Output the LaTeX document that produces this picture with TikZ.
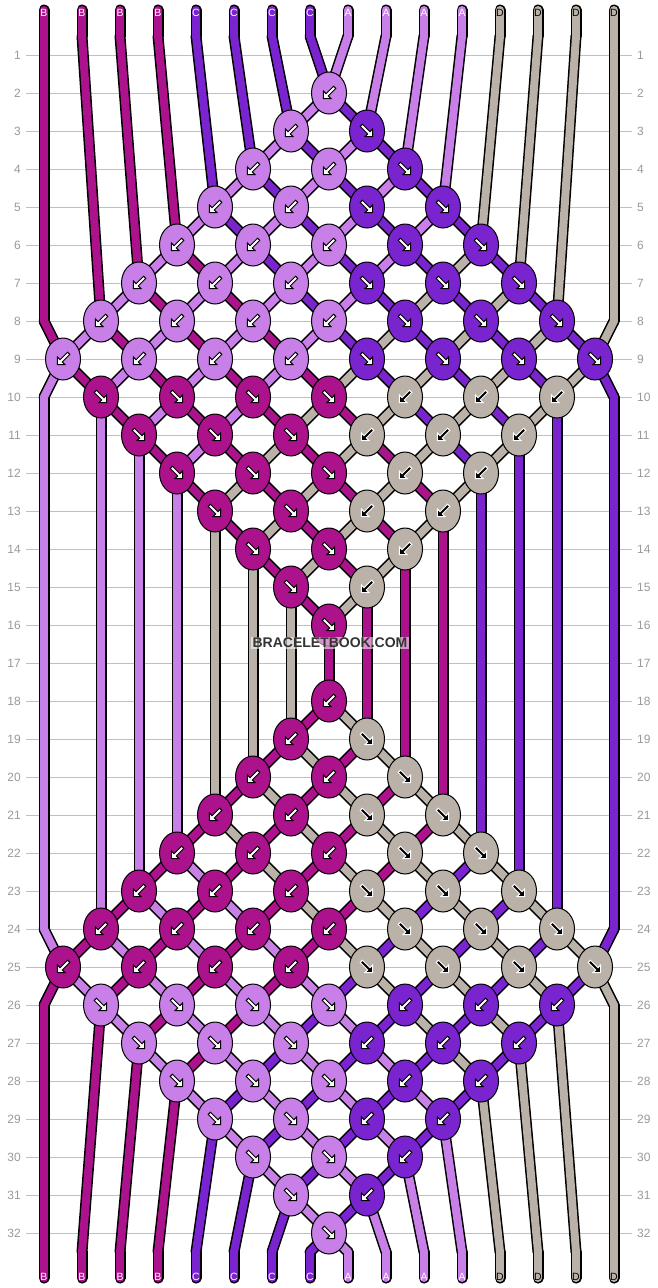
\documentclass[tikz,border=0pt]{standalone}
\usepackage{fontspec}
\setmainfont{Liberation Sans}
\usetikzlibrary{shapes.geometric}
\definecolor{colB}{HTML}{AC128C}
\definecolor{colC}{HTML}{7A24D0}
\definecolor{colA}{HTML}{C880E8}
\definecolor{colD}{HTML}{BAB2A8}
\definecolor{gridgray}{HTML}{C0C0C0}
\definecolor{labgray}{HTML}{9A9A9A}
\definecolor{wmtext}{HTML}{333333}

\gdef\seglist{}
\gdef\knotlist{}
\newcommand\addseg[5]{\xdef\seglist{\unexpanded\expandafter{\seglist}\noexpand\strandseg{#1}{#2}{#3}{#4}{#5}}}
\newcommand\addknot[5]{\xdef\knotlist{\unexpanded\expandafter{\knotlist}\noexpand\knotdraw{#1}{#2}{#3}{#4}{#5}}}
\newcommand\movestrand[3]{%
  \addseg{\csname sc#1\endcsname}{\csname sx#1\endcsname}{\csname sy#1\endcsname}{#2}{#3}%
  \expandafter\xdef\csname sx#1\endcsname{#2}%
  \expandafter\xdef\csname sy#1\endcsname{#3}}
\newcommand\doknot{%
  \pgfmathtruncatemacro\myjj{\myii+1}%
  \pgfmathtruncatemacro\mykx{25+38*\myii}%
  \ifnum\myii<9\relax \let\mykdir\myleftdir \else \if B\myleftdir \def\mykdir{F}\else \def\mykdir{B}\fi\fi
  \if F\mykdir \edef\mykc{\csname sc\myii\endcsname}\else \edef\mykc{\csname sc\myjj\endcsname}\fi
  \movestrand{\myii}{\mykx}{\myky}%
  \movestrand{\myjj}{\mykx}{\myky}%
  \edef\mytmp{\csname sc\myii\endcsname}%
  \expandafter\xdef\csname sc\myii\endcsname{\csname sc\myjj\endcsname}%
  \expandafter\xdef\csname sc\myjj\endcsname{\mytmp}%
  \addknot{\mykc}{\mykdir}{\mykx}{\myky}{\myrw-\myii}%
}

% initial strands
\foreach \mycc [count=\myp] in {B,B,B,B,C,C,C,C,A,A,A,A,D,D,D,D}{%
  \pgfmathtruncatemacro\myxx{6+38*\myp}%
  \expandafter\xdef\csname sc\myp\endcsname{\mycc}%
  \expandafter\xdef\csname top\myp\endcsname{\mycc}%
  \expandafter\xdef\csname sx\myp\endcsname{\myxx}%
  \expandafter\xdef\csname sy\myp\endcsname{36}%
  \addseg{\mycc}{\myxx}{10}{\myxx}{36}%
}

% rows of knots
\foreach \myrw in {1,...,32}{%
  \pgfmathtruncatemacro\myky{17+38*\myrw}%
  \ifnum\myrw<10\relax
    \pgfmathtruncatemacro\mylo{10-\myrw}\pgfmathtruncatemacro\myhi{6+\myrw}\def\myleftdir{B}%
  \else\ifnum\myrw<17\relax
    \pgfmathtruncatemacro\mylo{\myrw-8}\pgfmathtruncatemacro\myhi{24-\myrw}\def\myleftdir{F}%
  \else\ifnum\myrw<26\relax
    \pgfmathtruncatemacro\mylo{26-\myrw}\pgfmathtruncatemacro\myhi{\myrw-10}\def\myleftdir{B}%
  \else
    \pgfmathtruncatemacro\mylo{\myrw-24}\pgfmathtruncatemacro\myhi{40-\myrw}\def\myleftdir{F}%
  \fi\fi\fi
  \foreach \myii in {1,...,15}{%
    \pgfmathtruncatemacro\mypty{mod(\myii+\myrw,2)}%
    \ifnum\mypty=0\relax
      \ifnum\myii<\mylo\relax\else
        \ifnum\myii>\myhi\relax\else
          \doknot
        \fi
      \fi
    \fi
  }%
  \ifnum\csname sy1\endcsname=\myky\relax\else\movestrand{1}{44}{\myky}\fi
  \ifnum\csname sy16\endcsname=\myky\relax\else\movestrand{16}{614}{\myky}\fi
}

% bottom ends
\foreach \myp in {1,...,16}{%
  \pgfmathtruncatemacro\myxx{6+38*\myp}%
  \movestrand{\myp}{\myxx}{1252}%
  \addseg{\csname sc\myp\endcsname}{\myxx}{1252}{\myxx}{1278}%
  \expandafter\xdef\csname bot\myp\endcsname{\csname sc\myp\endcsname}%
}

\begin{document}
\begin{tikzpicture}[x=1pt,y=-1pt,
  gridline/.style={draw=gridgray, line width=1pt},
  rowlab/.style={text=labgray, font=\fontsize{12}{14}\selectfont, inner sep=0pt},
  strandout/.style={draw=black, line width=11pt, line cap=round, line join=round},
  strandin/.style={line width=8pt, line cap=round, line join=round},
  knotshape/.style={ellipse, draw=black, line width=1pt, minimum width=35pt, minimum height=42pt, inner sep=0pt},
  arrowshape/.style={line width=1pt, line join=miter},
  strandlab/.style={font=\fontsize{10.5}{12}\selectfont, inner sep=0pt},
  watermark/.style={font=\bfseries\fontsize{14}{16}\selectfont, text=wmtext, fill=white, fill opacity=0.55, text opacity=1, inner sep=1.5pt}]
\useasboundingbox (0,0) rectangle (658,1288);
\fill[white] (0,0) rectangle (658,1288);
\foreach \rw in {1,...,32}{
  \pgfmathtruncatemacro\myyy{17+38*\rw}
  \draw[gridline] (26,\myyy) -- (632,\myyy);
  \node[rowlab, anchor=east] (ll\rw) at (21,\myyy) {\rw};
  \node[rowlab, anchor=west] (rl\rw) at (637,\myyy) {\rw};
}
\def\strandseg#1#2#3#4#5{\draw[strandout] (#2,#3) -- (#4,#5);}
\seglist
\def\strandseg#1#2#3#4#5{\draw[strandin, draw=col#1] (#2,#3) -- (#4,#5);}
\seglist
\def\knotdraw#1#2#3#4#5{%
  \node[knotshape, fill=col#1] (k#5) at (#3,#4) {};
  \if D#1\def\arfill{black}\def\arline{white}\else\def\arfill{white}\def\arline{black}\fi
  \if F#2\def\arrot{-45}\else\def\arrot{-135}\fi
  \filldraw[arrowshape, fill=\arfill, draw=\arline, shift={(#3,#4)}, rotate=\arrot]
    (-8,-1.6) -- (2.6,-1.6) -- (2.6,-5.2) -- (8,0) -- (2.6,5.2) -- (2.6,1.6) -- (-8,1.6) -- cycle;
}
\knotlist
\foreach \myp in {1,...,16}{
  \pgfmathtruncatemacro\myxx{6+38*\myp}
  \edef\mylt{\csname top\myp\endcsname}
  \edef\mylb{\csname bot\myp\endcsname}
  \if D\mylt\def\mylc{black}\else\def\mylc{white}\fi
  \node[strandlab, text=\mylc] (st\myp) at (\myxx,12.5) {\mylt};
  \if D\mylb\def\mylc{black}\else\def\mylc{white}\fi
  \node[strandlab, text=\mylc] (sb\myp) at (\myxx,1276.5) {\mylb};
}
\node[watermark] (wm) at (330,643) {BRACELETBOOK.COM};
\end{tikzpicture}
\end{document}
